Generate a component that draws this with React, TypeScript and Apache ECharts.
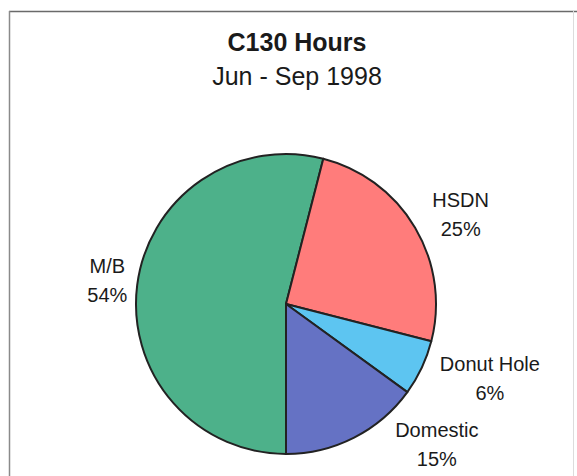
import React, { useEffect, useRef } from "react";
import * as echarts from "echarts";

const titleText = "C130 Hours";
const subtitleText = "Jun - Sep 1998";
const categories = ["M/B", "HSDN", "Donut Hole", "Domestic"];
const shares = [54, 25, 6, 15];
const sliceColors = ["#4DB18A", "#FF7C7B", "#5DC5F1", "#6572C4"];
// small per-label nudges (px) to mimic the original label placement
const labelNudge = [
  [10, -2],
  [0, -3],
  [0, 2],
  [32, -11],
];

const FONT = "'Liberation Sans', Arial, Helvetica, sans-serif";

export default function App() {
  const ref = useRef<HTMLDivElement>(null);
  useEffect(() => {
    if (!ref.current) return;
    const chart = echarts.init(ref.current, undefined, { renderer: "svg" });
    const data = categories.map((name, i) => ({
      name,
      value: shares[i],
      itemStyle: { color: sliceColors[i] },
    }));
    chart.setOption({
      animation: false,
      backgroundColor: "#ffffff",
      title: {
        text: titleText,
        subtext: subtitleText,
        left: 297,
        top: 29,
        padding: 0,
        textAlign: "center",
        itemGap: 9,
        textStyle: {
          fontFamily: FONT,
          fontSize: 25,
          fontWeight: "bold",
          color: "#1a1a1a",
          lineHeight: 25,
        },
        subtextStyle: {
          fontFamily: FONT,
          fontSize: 25,
          color: "#1a1a1a",
          lineHeight: 25,
        },
      },
      graphic: [
        {
          type: "line",
          shape: { x1: 9, y1: 11.5, x2: 577, y2: 11.5 },
          style: { stroke: "#6a6a6a", lineWidth: 1.5 },
          silent: true,
        },
        {
          type: "line",
          shape: { x1: 9.5, y1: 11, x2: 9.5, y2: 476 },
          style: { stroke: "#8a8a8a", lineWidth: 1.5 },
          silent: true,
        },
        {
          type: "line",
          shape: { x1: 573.5, y1: 11, x2: 573.5, y2: 476 },
          style: { stroke: "#dcdcdc", lineWidth: 1 },
          silent: true,
        },
      ],
      series: [
        {
          type: "pie",
          center: [286, 304],
          radius: 150,
          startAngle: -90,
          clockwise: true,
          avoidLabelOverlap: false,
          data,
          itemStyle: { borderColor: "#222222", borderWidth: 2 },
          emphasis: { disabled: true },
          label: {
            show: true,
            position: "outside",
            distanceToLabelLine: 0,
            overflow: "none",
            fontFamily: FONT,
            fontSize: 20,
            lineHeight: 29,
            color: "#1a1a1a",
            formatter: (p: any) => `${p.name}\n${Math.round(p.percent)}%`,
          },
          labelLine: { show: false, length: 20, length2: 0 },
          labelLayout: (p: any) => {
            const r = p.labelRect;
            const n = labelNudge[p.dataIndex] || [0, 0];
            return {
              x: r.x + r.width / 2 + n[0],
              y: r.y + r.height / 2 + n[1],
              align: "center",
              verticalAlign: "middle",
            };
          },
        },
      ],
    });
    return () => chart.dispose();
  }, []);
  return (
    <div
      ref={ref}
      style={{ position: "absolute", left: 0, top: 0, width: 577, height: 476 }}
    />
  );
}
